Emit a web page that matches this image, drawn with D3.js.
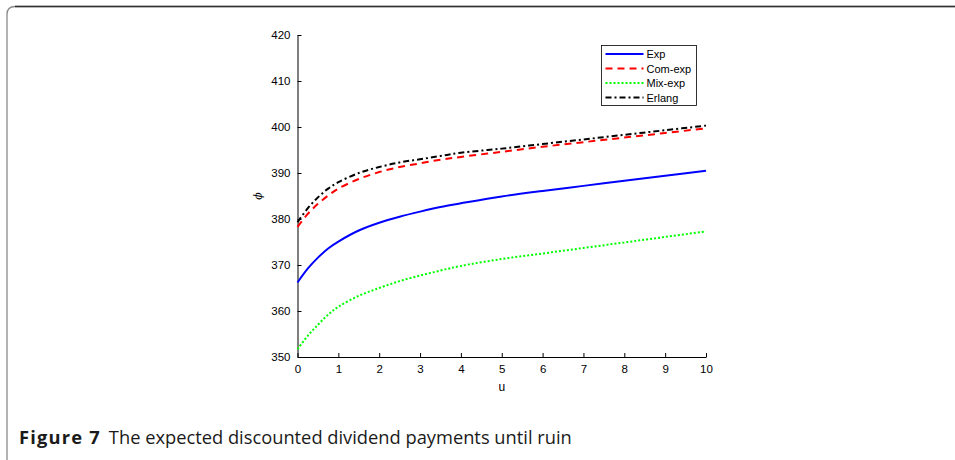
<!DOCTYPE html>
<html>
<head>
<meta charset="utf-8">
<script src="https://cdn.jsdelivr.net/npm/d3@7"></script>
<style>
  html, body { margin: 0; padding: 0; background: #fff; }
  svg { display: block; }
</style>
</head>
<body>
<svg id="chart" width="955" height="460"></svg>
<script>
// Surplus level u and expected discounted dividends for each claim-size model
const uValues = [0, 0.25, 0.5, 0.75, 1, 1.5, 2, 2.5, 3, 3.5, 4, 5, 6, 7, 8, 9, 10];
const expSeries    = [366.2, 369.2, 371.6, 373.6, 375.1, 377.5, 379.2, 380.5, 381.6, 382.6, 383.4, 384.9, 386.1, 387.2, 388.3, 389.4, 390.5];
const comExpSeries = [378.3, 381.1, 383.3, 385.1, 386.6, 388.7, 390.2, 391.3, 392.1, 392.9, 393.5, 394.6, 395.7, 396.7, 397.7, 398.7, 399.7];
const mixExpSeries = [351.7, 354.6, 357.0, 359.2, 360.9, 363.3, 365.0, 366.5, 367.7, 368.8, 369.8, 371.3, 372.5, 373.7, 374.9, 376.1, 377.3];
const erlangSeries = [379.3, 382.3, 384.7, 386.6, 388.0, 390.0, 391.3, 392.3, 393.0, 393.7, 394.4, 395.3, 396.3, 397.3, 398.3, 399.3, 400.3];
const seriesNames  = ["Exp", "Com-exp", "Mix-exp", "Erlang"];
const xTicks = [0, 1, 2, 3, 4, 5, 6, 7, 8, 9, 10];
const yTicks = [350, 360, 370, 380, 390, 400, 410, 420];
const captionLabel = "Figure 7";
const captionText = "The expected discounted dividend payments until ruin";

const svg = d3.select("#chart");

// Rounded frame of the figure panel
svg.append("path")
  .attr("d", "M7,470 L7,14.5 Q7,6.5 15,6.5 L960,6.5")
  .attr("fill", "none")
  .attr("stroke", "#8a8a8a")
  .attr("stroke-width", 1.3);
svg.append("line")
  .attr("x1", 15).attr("x2", 960).attr("y1", 6.5).attr("y2", 6.5)
  .attr("stroke", "#333").attr("stroke-width", 1.3);

const x = d3.scaleLinear().domain([0, 10]).range([297.5, 706]);
const y = d3.scaleLinear().domain([350, 420]).range([357, 35]);

const tickFont = "Liberation Sans, Arial, sans-serif";

// Axes with inward ticks
const xAxis = svg.append("g")
  .attr("transform", `translate(0,${y(350)})`)
  .call(d3.axisBottom(x).tickValues(xTicks).tickSizeInner(-4).tickSizeOuter(0).tickPadding(8));
const yAxis = svg.append("g")
  .attr("transform", `translate(${x(0)},0)`)
  .call(d3.axisLeft(y).tickValues(yTicks).tickSizeInner(-4).tickSizeOuter(0).tickPadding(7));

[xAxis, yAxis].forEach(g => {
  g.select(".domain").attr("stroke", "#000").attr("stroke-width", 1);
  g.selectAll(".tick line").attr("stroke", "#000");
  g.selectAll(".tick text")
    .attr("font-family", tickFont)
    .attr("font-size", 11.5)
    .attr("fill", "#000");
});

// Axis labels
svg.append("text")
  .attr("x", (x(0) + x(10)) / 2)
  .attr("y", 391)
  .attr("text-anchor", "middle")
  .attr("font-family", tickFont)
  .attr("font-size", 12)
  .text("u");
svg.append("text")
  .attr("transform", `translate(262,${(y(350) + y(420)) / 2}) rotate(-90)`)
  .attr("text-anchor", "middle")
  .attr("font-family", "DejaVu Serif, serif")
  .attr("font-style", "italic")
  .attr("font-size", 11)
  .text("\u03D5");

// Series styling
const styles = [
  { values: expSeries,    color: "#0000ff", dash: null },
  { values: comExpSeries, color: "#ff0000", dash: "7,5" },
  { values: mixExpSeries, color: "#00ff00", dash: "2,2" },
  { values: erlangSeries, color: "#000000", dash: "6,3,2,3" }
];

const line = d3.line()
  .x((d, i) => x(uValues[i]))
  .y(d => y(d))
  .curve(d3.curveCatmullRom.alpha(0.5));

styles.forEach(s => {
  svg.append("path")
    .datum(s.values)
    .attr("d", line)
    .attr("fill", "none")
    .attr("stroke", s.color)
    .attr("stroke-width", 2)
    .attr("stroke-dasharray", s.dash);
});

// Legend
const legend = svg.append("g").attr("transform", "translate(601.5,45.5)");
legend.append("rect")
  .attr("width", 95).attr("height", 60)
  .attr("fill", "#fff").attr("stroke", "#000").attr("stroke-width", 0.8);
seriesNames.forEach((name, i) => {
  const ly = 8.5 + i * 14.5;
  legend.append("line")
    .attr("x1", 4).attr("x2", 42).attr("y1", ly).attr("y2", ly)
    .attr("stroke", styles[i].color)
    .attr("stroke-width", 2)
    .attr("stroke-dasharray", styles[i].dash);
  legend.append("text")
    .attr("x", 45).attr("y", ly + 4)
    .attr("font-family", tickFont)
    .attr("font-size", 11)
    .text(name);
});

// Caption
const cap = svg.append("text")
  .attr("x", 19).attr("y", 444)
  .attr("font-family", "Open Sans, Noto Sans, sans-serif")
  .attr("font-size", 18.3)
  .attr("fill", "#1a1a1a");
cap.append("tspan").attr("font-weight", "bold").attr("letter-spacing", 1.2).text(captionLabel);
cap.append("tspan").attr("dx", 8).text(captionText);
</script>
</body>
</html>
